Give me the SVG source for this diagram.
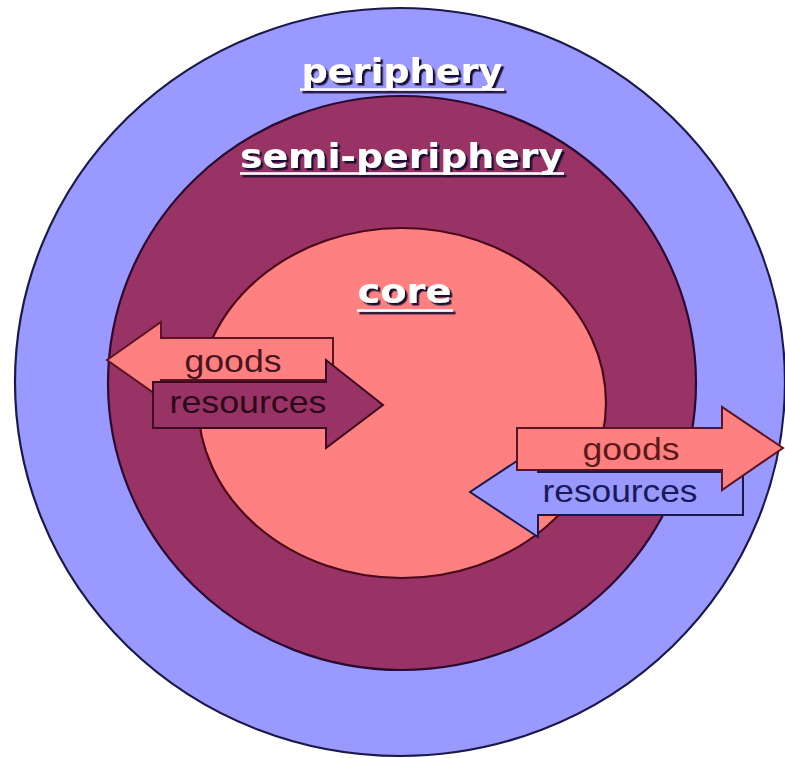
<svg xmlns="http://www.w3.org/2000/svg" width="785" height="758" viewBox="0 0 785 758">
<defs>
<filter id="shadow" x="-10%" y="-30%" width="120%" height="160%">
<feDropShadow dx="2.5" dy="2.5" stdDeviation="0.6" flood-color="#1a1030" flood-opacity="1"/>
</filter>
</defs>
<style>
.ring{stroke-width:2.2}
.lbl{font-family:"Liberation Sans",Arial,sans-serif;font-size:32px;text-anchor:middle}
.ttl{font-family:"DejaVu Sans",Verdana,sans-serif;font-weight:bold;font-size:33px;text-anchor:middle;fill:#ffffff}
.ul{stroke:#ffffff;stroke-width:2.5}
.arr{stroke-width:2;stroke-linejoin:miter}
</style>
<rect width="785" height="758" fill="#ffffff"/>
<g id="periphery">
<ellipse class="ring" cx="400" cy="382" rx="385" ry="374" fill="#9999ff" stroke="#1a1a4a"/>
</g>
<g id="semi-periphery">
<ellipse class="ring" cx="402" cy="383" rx="294" ry="287" fill="#993366" stroke="#2a0a30"/>
</g>
<g id="core">
<ellipse class="ring" cx="402" cy="403" rx="204" ry="175" fill="#ff8080" stroke="#4a0a1a"/>
</g>
<g id="titles">
<g id="title-periphery" filter="url(#shadow)">
<text class="ttl" x="402" y="83" textLength="201" lengthAdjust="spacingAndGlyphs">periphery</text>
<line class="ul" x1="300" y1="89.5" x2="504" y2="89.5"/>
</g>
<g id="title-semi" filter="url(#shadow)">
<text class="ttl" x="401.5" y="168" textLength="323" lengthAdjust="spacingAndGlyphs">semi-periphery</text>
<line class="ul" x1="240" y1="173.5" x2="564" y2="173.5"/>
</g>
<g id="title-core" filter="url(#shadow)">
<text class="ttl" x="404.5" y="303" textLength="94" lengthAdjust="spacingAndGlyphs">core</text>
<line class="ul" x1="357" y1="310.5" x2="453" y2="310.5"/>
</g>
</g>
<g id="connectors">
<g id="left-goods">
<polygon class="arr" points="107,360 161,322 161,338 333,338 333,380 161,380 161,398" fill="#ff8080" stroke="#5a1424"/>
<text class="lbl" x="233" y="372" fill="#4a1420" textLength="97" lengthAdjust="spacingAndGlyphs">goods</text>
</g>
<g id="left-resources">
<polygon class="arr" points="153,382 326,382 326,360 383,405 326,448 326,428 153,428" fill="#993366" stroke="#3a0a20"/>
<text class="lbl" x="248" y="413" fill="#2a0818" textLength="157" lengthAdjust="spacingAndGlyphs">resources</text>
</g>
<g id="right-resources">
<polygon class="arr" points="743,472 743,515 538,515 538,537 470,492 538,447 538,472" fill="#9999ff" stroke="#1a1a4a"/>
<text class="lbl" x="620" y="502" fill="#1a1a5a" textLength="155" lengthAdjust="spacingAndGlyphs">resources</text>
</g>
<g id="right-goods">
<polygon class="arr" points="517,428 722,428 722,407 783,448 722,490 722,470 517,470" fill="#ff8080" stroke="#5a1424"/>
<text class="lbl" x="631" y="460" fill="#5a1a1a" textLength="97" lengthAdjust="spacingAndGlyphs">goods</text>
</g>
</g>
</svg>
